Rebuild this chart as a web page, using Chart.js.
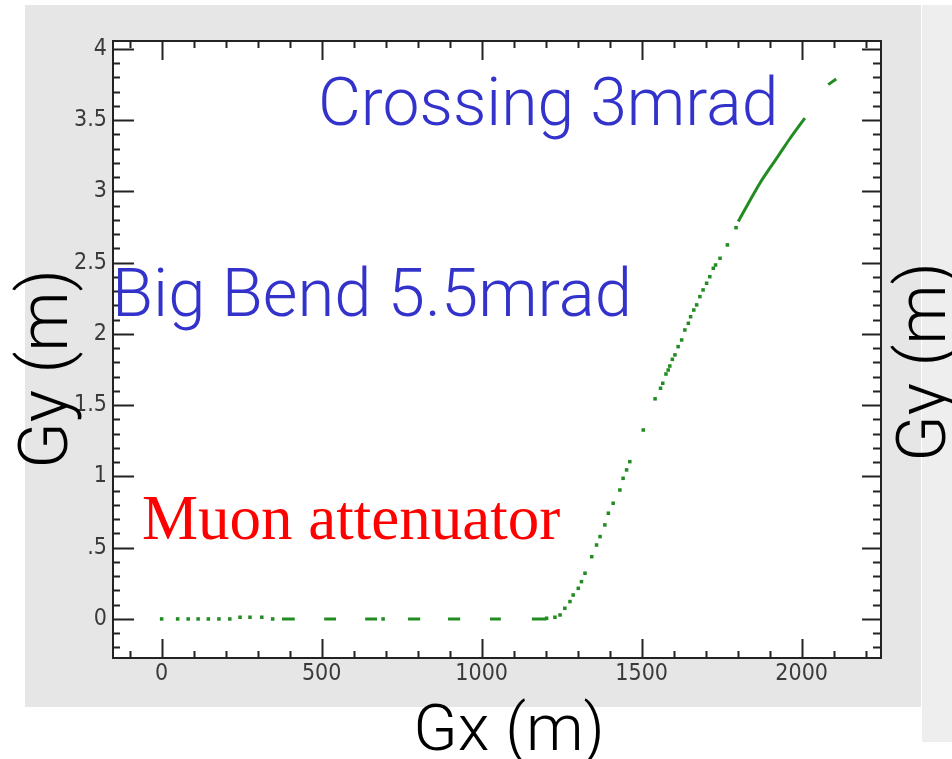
<!DOCTYPE html>
<html>
<head>
<meta charset="utf-8">
<script src="https://cdn.jsdelivr.net/npm/chart.js@4/dist/chart.umd.min.js"></script>
<style>
html, body { margin: 0; padding: 0; background: #fff; }
#wrap { position: relative; width: 952px; height: 759px; }
</style>
</head>
<body>
<div id="wrap"><canvas id="gyChart"></canvas></div>
<script>
// ejes
const xTicks = [0, 500, 1000, 1500, 2000];
const xTickLabels = ['0', '500', '1000', '1500', '2000'];
const yTicks = [0, 0.5, 1, 1.5, 2, 2.5, 3, 3.5, 4];
const yTickLabels = ['0', '.5', '1', '1.5', '2', '2.5', '3', '3.5', '4'];

// tramo plano (puntos sueltos)
const flatX = [0, 50, 83, 114, 146, 179, 213, 245, 276, 313, 347, 692];
const flatY = [0, 0, 0, 0, 0, 0, 0, 0.012, 0.012, 0.012, 0, 0];

// tramo plano (guiones)
const dashStartX = [376, 508, 636, 770, 895, 1026, 1157];
const dashEndX = [416, 545, 673, 808, 933, 1060, 1203];

// subida (puntos)
const curveX = [1203, 1229, 1245, 1260, 1276, 1286, 1302, 1312, 1323, 1344, 1359, 1370, 1385, 1396, 1411,
  1432, 1442, 1453, 1463, 1505, 1542, 1559, 1566, 1576, 1583, 1588, 1596, 1604, 1614, 1625, 1635, 1646,
  1653, 1663, 1672, 1682, 1692, 1703, 1713, 1724, 1731, 1745, 1768, 1795];
const curveY = [0.005, 0.012, 0.028, 0.075, 0.122, 0.168, 0.215, 0.262, 0.321, 0.437, 0.519, 0.578, 0.660, 0.742, 0.812,
  0.905, 0.987, 1.046, 1.104, 1.326, 1.545, 1.619, 1.654, 1.719, 1.747, 1.775, 1.822, 1.853, 1.911, 1.958, 2.028, 2.075,
  2.121, 2.168, 2.204, 2.262, 2.309, 2.356, 2.402, 2.461, 2.484, 2.531, 2.625, 2.746];

// subida (tramo continuo)
const denseX = [1802, 1838, 1870, 1901, 1927, 1963, 2010];
const denseY = [2.79, 2.935, 3.06, 3.165, 3.25, 3.37, 3.515];

// ultimo trozo arriba
const topX = [2083, 2108];
const topY = [3.75, 3.79];

const green = 'rgb(34,140,34)';
const tickFont = { family: "'DejaVu Sans Condensed', 'DejaVu Sans', sans-serif", size: 23 };

const dots = flatX.map((x, i) => ({ x: x, y: flatY[i] }))
  .concat(curveX.map((x, i) => ({ x: x, y: curveY[i] })));

const dashData = [];
dashStartX.forEach((x0, i) => {
  dashData.push({ x: x0, y: 0 }, { x: dashEndX[i], y: 0 }, { x: dashEndX[i], y: null });
});
const lineData = denseX.map((x, i) => ({ x: x, y: denseY[i] }))
  .concat([{ x: 2050, y: null }])
  .concat(topX.map((x, i) => ({ x: x, y: topY[i] })));

// fondo, marco, marcas hacia dentro y textos
const framePlugin = {
  id: 'framePlugin',
  beforeDraw(chart) {
    const ctx = chart.ctx;
    const a = chart.chartArea;
    ctx.save();
    ctx.fillStyle = '#fff';
    ctx.fillRect(0, 0, chart.width, chart.height);
    ctx.fillStyle = '#e6e6e6';
    ctx.fillRect(25, 5, 896, 702);
    ctx.fillStyle = '#eeeeee';
    ctx.fillRect(922, 5, 30, 737);
    ctx.fillStyle = '#fff';
    ctx.fillRect(a.left, a.top, a.right - a.left, a.bottom - a.top);
    ctx.restore();
  },
  beforeDatasetsDraw(chart) {
    const ctx = chart.ctx;
    const a = chart.chartArea;
    const xs = chart.scales.x, ys = chart.scales.y;
    ctx.save();
    ctx.strokeStyle = '#222';
    ctx.lineWidth = 2;
    ctx.beginPath();
    for (let v = -100; v <= 2200; v += 100) {
      const px = Math.round(xs.getPixelForValue(v)) + 0.5;
      const len = xTicks.includes(v) ? 19 : 7;
      ctx.moveTo(px, a.bottom); ctx.lineTo(px, a.bottom - len);
      ctx.moveTo(px, a.top); ctx.lineTo(px, a.top + len);
    }
    for (let k = -2; k <= 40; k++) {
      const v = k / 10;
      const py = Math.round(ys.getPixelForValue(v)) + 0.5;
      const major = k % 5 === 0;
      ctx.moveTo(a.left, py); ctx.lineTo(a.left + (major ? 21 : 7), py);
      ctx.moveTo(a.right, py); ctx.lineTo(a.right - (major ? 19 : 8), py);
    }
    ctx.stroke();
    ctx.strokeRect(a.left, a.top, a.right - a.left, a.bottom - a.top);
    ctx.restore();
  },
  afterDraw(chart) {
    const ctx = chart.ctx;
    ctx.save();
    ctx.textBaseline = 'alphabetic';
    // titulos de ejes
    ctx.fillStyle = '#000';
    ctx.font = "300 65px Roboto, sans-serif";
    ctx.textAlign = 'center';
    ctx.fillText('Gx (m)', 509, 750);
    ctx.font = "300 68px Roboto, sans-serif";
    ctx.save();
    ctx.translate(67, 369);
    ctx.rotate(-Math.PI / 2);
    ctx.fillText('Gy (m)', 0, 0);
    ctx.restore();
    ctx.save();
    ctx.translate(945, 362);
    ctx.rotate(-Math.PI / 2);
    ctx.fillText('Gy (m)', 0, 0);
    ctx.restore();
    // anotaciones
    ctx.textAlign = 'left';
    ctx.fillStyle = '#3333cc';
    ctx.font = "300 66px Roboto, sans-serif";
    ctx.fillText('Crossing 3mrad', 318, 125);
    ctx.font = "300 67px Roboto, sans-serif";
    ctx.fillText('Big Bend 5.5mrad', 112, 316);
    ctx.fillStyle = '#ff0000';
    ctx.font = "63px 'Liberation Serif', serif";
    ctx.fillText('Muon attenuator', 142, 539);
    ctx.restore();
  }
};

new Chart(document.getElementById('gyChart'), {
  type: 'scatter',
  data: {
    datasets: [
      {
        label: 'dots',
        data: dots,
        pointStyle: 'rect',
        pointRadius: 2.5,
        backgroundColor: green,
        borderWidth: 0,
        showLine: false
      },
      {
        label: 'dashes',
        data: dashData,
        showLine: true,
        spanGaps: false,
        borderColor: green,
        borderWidth: 3,
        pointRadius: 0
      },
      {
        label: 'line',
        data: lineData,
        showLine: true,
        spanGaps: false,
        cubicInterpolationMode: 'monotone',
        borderColor: green,
        borderWidth: 3,
        pointRadius: 0
      }
    ]
  },
  options: {
    responsive: true,
    maintainAspectRatio: false,
    animation: false,
    layout: { padding: { top: 41, right: 71, left: 0, bottom: 0 } },
    plugins: {
      legend: { display: false },
      tooltip: { enabled: false }
    },
    scales: {
      x: {
        type: 'linear',
        min: -152,
        max: 2248,
        afterBuildTicks: s => { s.ticks = xTicks.map(v => ({ value: v })); },
        afterFit: s => { s.height = 101; },
        ticks: {
          callback: v => xTickLabels[xTicks.indexOf(v)],
          font: tickFont,
          color: '#3a3a3a',
          padding: 2,
          maxRotation: 0,
          autoSkip: false
        },
        grid: { display: false, drawTicks: false },
        border: { display: false }
      },
      y: {
        type: 'linear',
        min: -0.274,
        max: 4.056,
        afterBuildTicks: s => { s.ticks = yTicks.map(v => ({ value: v })); },
        afterFit: s => { s.width = 113; },
        ticks: {
          callback: v => yTickLabels[yTicks.indexOf(v)],
          font: tickFont,
          color: '#3a3a3a',
          padding: 6,
          autoSkip: false
        },
        grid: { display: false, drawTicks: false },
        border: { display: false }
      }
    }
  },
  plugins: [framePlugin]
});
</script>
</body>
</html>
